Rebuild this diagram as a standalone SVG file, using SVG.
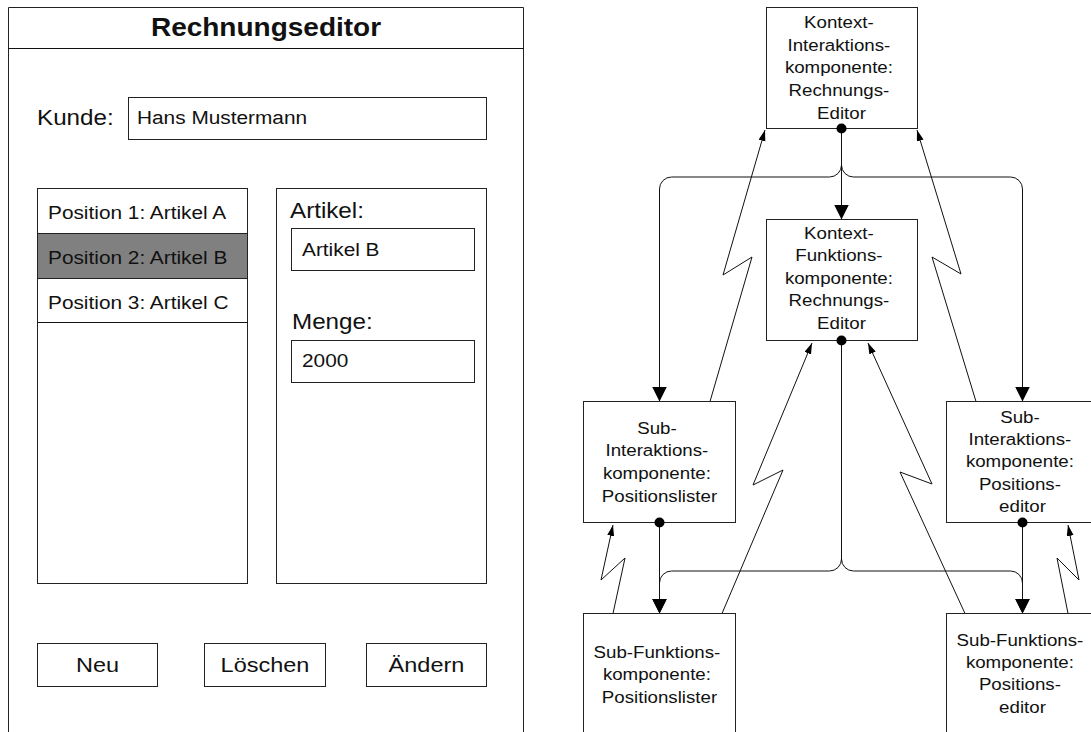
<svg xmlns="http://www.w3.org/2000/svg" width="1091" height="732" viewBox="0 0 1091 732">
  <style>
    .frame { fill: #fff; stroke: #222; stroke-width: 1; }
    .sel { fill: #808080; stroke: #222; stroke-width: 1; }
    .line { fill: none; stroke: #111; stroke-width: 1; }
    .dot { fill: #000; }
    .txt { font-family: "Liberation Sans", Arial, sans-serif; fill: #111; }
    .ui { font-size: 18.6px; }
    .lbl { font-size: 22px; }
    .title { font-size: 25px; font-weight: bold; text-anchor: middle; }
    .btn { font-size: 21px; text-anchor: middle; }
    .node { font-size: 17px; text-anchor: middle; }
  </style>
  <defs>
    <marker id="big" markerUnits="userSpaceOnUse" markerWidth="15" markerHeight="15" refX="15" refY="7.5" orient="auto">
      <path d="M0,0 L15,7.5 L0,15 Z" fill="#000"/>
    </marker>
    <marker id="small" markerUnits="userSpaceOnUse" markerWidth="12" markerHeight="8" refX="11" refY="3.5" orient="auto">
      <path d="M0,0 L11,3.5 L0,7 Z" fill="#000"/>
    </marker>
  </defs>
  <rect width="1091" height="732" fill="#fff"/>

  <!-- Invoice editor screen mock-up -->
  <g id="rechnungseditor">
    <path class="frame" d="M8.5,745 L8.5,7.5 L523.5,7.5 L523.5,745"/>
    <line class="line" x1="8.5" y1="48.5" x2="523.5" y2="48.5"/>
    <text class="txt title" transform="translate(266,36) scale(1.12,1)">Rechnungseditor</text>

    <text class="txt lbl" transform="translate(37,125) scale(1.1,1)">Kunde:</text>
    <rect class="frame" x="128.5" y="97.5" width="358" height="42"/>
    <text class="txt ui" transform="translate(137,124) scale(1.12,1)">Hans Mustermann</text>

    <!-- position list -->
    <rect class="frame" x="37.5" y="188.5" width="210" height="395"/>
    <rect class="sel" x="37.5" y="233.5" width="210" height="45"/>
    <line class="line" x1="37.5" y1="322.5" x2="247.5" y2="322.5"/>
    <text class="txt ui" transform="translate(48,219) scale(1.12,1)">Position 1: Artikel A</text>
    <text class="txt ui" transform="translate(48,264) scale(1.12,1)">Position 2: Artikel B</text>
    <text class="txt ui" transform="translate(48,309) scale(1.12,1)">Position 3: Artikel C</text>

    <!-- position details -->
    <rect class="frame" x="276.5" y="188.5" width="210" height="395"/>
    <text class="txt lbl" transform="translate(290,218) scale(1.1,1)">Artikel:</text>
    <rect class="frame" x="291.5" y="228.5" width="183" height="42"/>
    <text class="txt ui" transform="translate(302,256) scale(1.12,1)">Artikel B</text>
    <text class="txt lbl" transform="translate(292,329) scale(1.1,1)">Menge:</text>
    <rect class="frame" x="291.5" y="340.5" width="183" height="42"/>
    <text class="txt ui" transform="translate(302,367) scale(1.12,1)">2000</text>

    <!-- buttons -->
    <rect class="frame" x="37.5" y="643.5" width="120" height="43"/>
    <text class="txt btn" transform="translate(97.5,672) scale(1.12,1)">Neu</text>
    <rect class="frame" x="204.5" y="643.5" width="121" height="43"/>
    <text class="txt btn" transform="translate(265,672) scale(1.12,1)">Löschen</text>
    <rect class="frame" x="366.5" y="643.5" width="120" height="43"/>
    <text class="txt btn" transform="translate(426.5,672) scale(1.12,1)">Ändern</text>
  </g>

  <!-- Connectors: calls (plain arrows) and events (lightning arrows) -->
  <g id="connectors">
    <!-- top: context interaction component forks to context function + sub interaction components -->
    <line class="line" x1="841.5" y1="128.5" x2="841.5" y2="219.5" marker-end="url(#big)"/>
    <path class="line" d="M841.5,165 A12,12 0 0 1 829.5,177 L671.5,177 A12,12 0 0 0 659.5,189 L659.5,401.5" marker-end="url(#big)"/>
    <path class="line" d="M841.5,165 A12,12 0 0 0 853.5,177 L1010.5,177 A12,12 0 0 1 1022.5,189 L1022.5,401.5" marker-end="url(#big)"/>

    <!-- bottom: context function component forks to sub function components -->
    <path class="line" d="M841.5,340.5 L841.5,559 A12,12 0 0 1 829.5,571 L671.5,571 A12,12 0 0 0 659.5,583 L659.5,613.5" marker-end="url(#big)"/>
    <path class="line" d="M841.5,559 A12,12 0 0 0 853.5,571 L1010.5,571 A12,12 0 0 1 1022.5,583 L1022.5,613.5" marker-end="url(#big)"/>
    <line class="line" x1="659.5" y1="522.5" x2="659.5" y2="613.5" marker-end="url(#big)"/>
    <line class="line" x1="1022.5" y1="522.5" x2="1022.5" y2="613.5" marker-end="url(#big)"/>

    <!-- event notifications -->
    <polyline class="line" points="710,401.5 752,257 723,275 765,130" marker-end="url(#small)"/>
    <polyline class="line" points="976,401.5 932,257 961,274 917,130" marker-end="url(#small)"/>
    <polyline class="line" points="722,613.5 783,470 753,485 812,343" marker-end="url(#small)"/>
    <polyline class="line" points="965,613.5 900,472 932,484 868,343" marker-end="url(#small)"/>
    <polyline class="line" points="613,613.5 625,558 601,580 613,525" marker-end="url(#small)"/>
    <polyline class="line" points="1068,613.5 1057,558 1079,580 1068,525" marker-end="url(#small)"/>
  </g>

  <g id="kontext-interaktion">
    <rect class="frame" x="766.5" y="7.5" width="151" height="121"/>
    <text class="txt node" transform="translate(841.5,0) scale(1.1,1)">
      <tspan x="0" y="28">Kontext-</tspan>
      <tspan x="0" y="51">Interaktions-</tspan>
      <tspan x="0" y="73">komponente:</tspan>
      <tspan x="0" y="96">Rechnungs-</tspan>
      <tspan x="0" y="119">Editor</tspan>
    </text>
    <circle class="dot" cx="841.5" cy="128.5" r="5"/>
  </g>

  <g id="kontext-funktion">
    <rect class="frame" x="766.5" y="219.5" width="151" height="121"/>
    <text class="txt node" transform="translate(841.5,0) scale(1.1,1)">
      <tspan x="0" y="239">Kontext-</tspan>
      <tspan x="0" y="261">Funktions-</tspan>
      <tspan x="0" y="284">komponente:</tspan>
      <tspan x="0" y="306">Rechnungs-</tspan>
      <tspan x="0" y="329">Editor</tspan>
    </text>
    <circle class="dot" cx="841.5" cy="340.5" r="5"/>
  </g>

  <g id="sub-interaktion-positionslister">
    <rect class="frame" x="583.5" y="401.5" width="152" height="121"/>
    <text class="txt node" transform="translate(659.5,0) scale(1.1,1)">
      <tspan x="0" y="434">Sub-</tspan>
      <tspan x="0" y="456">Interaktions-</tspan>
      <tspan x="0" y="479">komponente:</tspan>
      <tspan x="0" y="502">Positionslister</tspan>
    </text>
    <circle class="dot" cx="659.5" cy="522.5" r="5"/>
  </g>

  <g id="sub-interaktion-positionseditor">
    <rect class="frame" x="946.5" y="401.5" width="152" height="121"/>
    <text class="txt node" transform="translate(1022.5,0) scale(1.1,1)">
      <tspan x="0" y="423">Sub-</tspan>
      <tspan x="0" y="445">Interaktions-</tspan>
      <tspan x="0" y="467">komponente:</tspan>
      <tspan x="0" y="490">Positions-</tspan>
      <tspan x="0" y="512">editor</tspan>
    </text>
    <circle class="dot" cx="1022.5" cy="522.5" r="5"/>
  </g>

  <g id="sub-funktion-positionslister">
    <rect class="frame" x="583.5" y="613.5" width="152" height="130"/>
    <text class="txt node" transform="translate(659.5,0) scale(1.1,1)">
      <tspan x="0" y="658">Sub-Funktions-</tspan>
      <tspan x="0" y="680">komponente:</tspan>
      <tspan x="0" y="703">Positionslister</tspan>
    </text>
  </g>

  <g id="sub-funktion-positionseditor">
    <rect class="frame" x="946.5" y="613.5" width="152" height="130"/>
    <text class="txt node" transform="translate(1022.5,0) scale(1.1,1)">
      <tspan x="0" y="646">Sub-Funktions-</tspan>
      <tspan x="0" y="668">komponente:</tspan>
      <tspan x="0" y="690">Positions-</tspan>
      <tspan x="0" y="713">editor</tspan>
    </text>
  </g>
</svg>
